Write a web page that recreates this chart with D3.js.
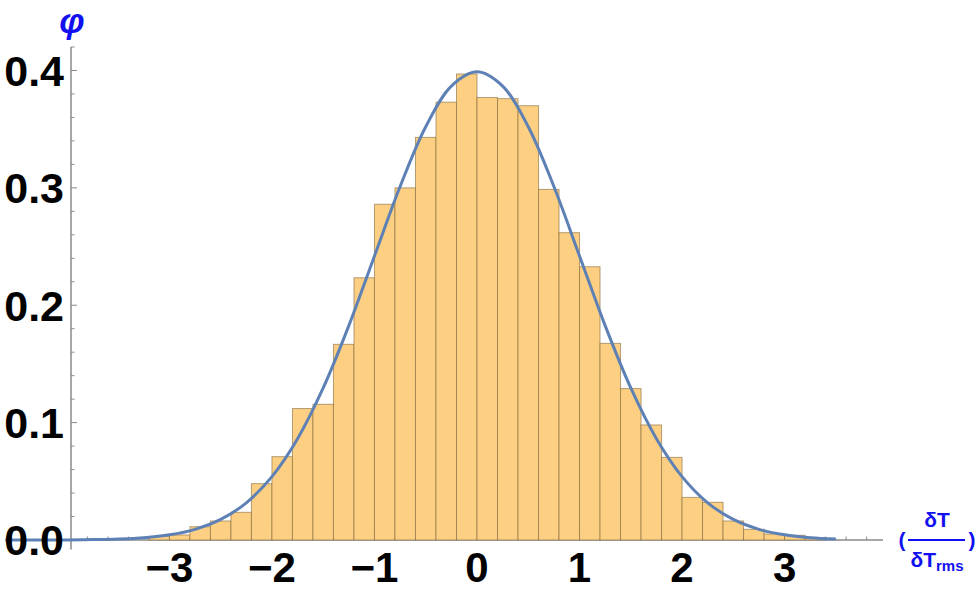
<!DOCTYPE html>
<html><head><meta charset="utf-8">
<script src="https://cdn.jsdelivr.net/npm/d3@7"></script>
<style>html,body{margin:0;padding:0;background:#fff;}svg{display:block;}</style>
</head><body>
<script>
// Histogram bins (left edges, width 0.2) and heights
const binStart = [-3.2,-3.0,-2.8,-2.6,-2.4,-2.2,-2.0,-1.8,-1.6,-1.4,-1.2,-1.0,-0.8,-0.6,-0.4,-0.2,0.0,0.2,0.4,0.6,0.8,1.0,1.2,1.4,1.6,1.8,2.0,2.2,2.4,2.6,2.8,3.0,3.2];
const binHeight = [0.003,0.0043,0.0113,0.0162,0.0236,0.048,0.071,0.112,0.1156,0.1667,0.2234,0.286,0.300,0.343,0.373,0.397,0.377,0.376,0.370,0.2987,0.2618,0.2328,0.1675,0.129,0.098,0.0704,0.0363,0.0321,0.0162,0.0091,0.0051,0.004,0.002];
const binWidth = 0.2;
// Fitted curve samples
const curveX = [-4.6,-4.25,-4.0,-3.75,-3.5,-3.25,-3.0,-2.75,-2.5,-2.25,-2.0,-1.75,-1.5,-1.25,-1.0,-0.75,-0.5,-0.25,0,0.25,0.5,0.75,1.0,1.25,1.5,1.75,2.0,2.25,2.5,2.75,3.0,3.25,3.5];
const curveY = [0.0000,0.0001,0.0001,0.0004,0.0009,0.0020,0.0044,0.0091,0.0175,0.0317,0.0540,0.0863,0.1295,0.1826,0.2420,0.3011,0.3521,0.3867,0.3989,0.3867,0.3521,0.3011,0.2420,0.1826,0.1295,0.0863,0.0540,0.0317,0.0175,0.0091,0.0044,0.0020,0.0009];
const xTicks = [-3,-2,-1,0,1,2,3];
const xTickLabels = ["\u22123","\u22122","\u22121","0","1","2","3"];
const yTicks = [0,0.1,0.2,0.3,0.4];
const yTickLabels = ["0.0","0.1","0.2","0.3","0.4"];

const W = 980, H = 591;
const svg = d3.select("body").append("svg").attr("width", W).attr("height", H);
const x = d3.scaleLinear().domain([-3.96, 3.96]).range([71, 883]);
const y = d3.scaleLinear().domain([0, 0.42]).range([540, 47]);

const axisColor = "#8a8a8a";
// axes lines
svg.append("line").attr("x1", x(-3.96)).attr("x2", x(3.96)).attr("y1", y(0)).attr("y2", y(0))
  .attr("stroke", axisColor).attr("stroke-width", 1.5);
svg.append("line").attr("x1", x(-3.96)).attr("x2", x(-3.96)).attr("y1", y(-0.008)).attr("y2", y(0.42))
  .attr("stroke", axisColor).attr("stroke-width", 1.5);

// x ticks
const xMinor = d3.range(-19, 20).map(i => i * 0.2).filter(v => Math.abs(v - Math.round(v)) > 1e-6);
svg.append("g").selectAll("line").data(xMinor).join("line")
  .attr("x1", d => x(d)).attr("x2", d => x(d)).attr("y1", y(0)).attr("y2", y(0) - 3.5)
  .attr("stroke", axisColor).attr("stroke-width", 1);
svg.append("g").selectAll("line").data(xTicks).join("line")
  .attr("x1", d => x(d)).attr("x2", d => x(d)).attr("y1", y(0)).attr("y2", y(0) - 6)
  .attr("stroke", axisColor).attr("stroke-width", 1);
// y ticks
const yMinor = d3.range(1, 22).map(i => i * 0.02).filter(v => Math.abs(v * 10 - Math.round(v * 10)) > 1e-6);
svg.append("g").selectAll("line").data(yMinor).join("line")
  .attr("x1", x(-3.96)).attr("x2", x(-3.96) + 3.5).attr("y1", d => y(d)).attr("y2", d => y(d))
  .attr("stroke", axisColor).attr("stroke-width", 1);
svg.append("g").selectAll("line").data(yTicks).join("line")
  .attr("x1", x(-3.96)).attr("x2", x(-3.96) + 6).attr("y1", d => y(d)).attr("y2", d => y(d))
  .attr("stroke", axisColor).attr("stroke-width", 1);

// bars
svg.append("g").selectAll("rect").data(binStart).join("rect")
  .attr("x", d => x(d)).attr("width", d => x(d + binWidth) - x(d))
  .attr("y", (d, i) => y(binHeight[i])).attr("height", (d, i) => y(0) - y(binHeight[i]))
  .attr("fill", "#fccf82").attr("stroke", "rgba(130,105,60,0.6)").attr("stroke-width", 1);

// curve
const pts = curveX.map((v, i) => [v, curveY[i]]);
svg.append("path").datum(pts)
  .attr("d", d3.line().x(d => x(d[0])).y(d => y(d[1])).curve(d3.curveCatmullRom))
  .attr("fill", "none").attr("stroke", "#5e81b5").attr("stroke-width", 3);

const font = "'Liberation Sans', Arial, sans-serif";
// tick labels
svg.append("g").selectAll("text").data(yTicks).join("text")
  .attr("x", 64).attr("y", d => y(d)).attr("dy", "0.36em").attr("text-anchor", "end")
  .attr("font-family", font).attr("font-weight", "bold").attr("font-size", 43)
  .text((d, i) => yTickLabels[i]);
svg.append("g").selectAll("text").data(xTicks).join("text")
  .attr("x", d => x(d)).attr("y", 582).attr("text-anchor", "middle")
  .attr("font-family", font).attr("font-weight", "bold").attr("font-size", 42)
  .text((d, i) => xTickLabels[i]);

// axis labels
const blue = "#1010f0";
svg.append("text").attr("x", 72).attr("y", 33).attr("text-anchor", "middle")
  .attr("font-family", font).attr("font-weight", "bold").attr("font-style", "italic")
  .attr("font-size", 36).attr("fill", blue).text("\u03c6");
const lab = svg.append("g").attr("font-family", font).attr("font-weight", "bold").attr("fill", blue);
lab.append("text").attr("x", 902).attr("y", 547).attr("text-anchor", "middle").attr("font-size", 21).text("(");
lab.append("text").attr("x", 972).attr("y", 547).attr("text-anchor", "middle").attr("font-size", 21).text(")");
lab.append("line").attr("x1", 908).attr("x2", 965).attr("y1", 540).attr("y2", 540).attr("stroke", blue).attr("stroke-width", 2);
lab.append("text").attr("x", 937).attr("y", 527).attr("text-anchor", "middle").attr("font-size", 21).text("\u03b4T");
const den = lab.append("text").attr("x", 937).attr("y", 567).attr("text-anchor", "middle").attr("font-size", 21);
den.append("tspan").text("\u03b4T");
den.append("tspan").attr("font-size", 15).attr("dy", 4).text("rms");
</script>
</body></html>
